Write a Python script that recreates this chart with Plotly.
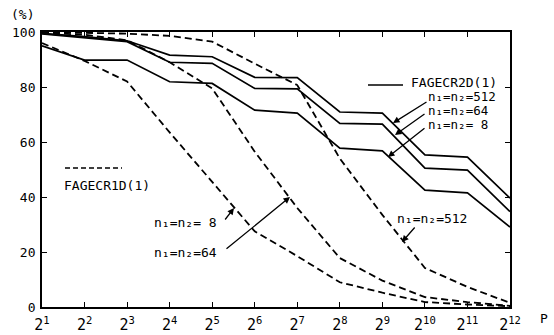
import plotly.graph_objects as go

# ---- data ----
P = [2, 4, 8, 16, 32, 64, 128, 256, 512, 1024, 2048, 4096]
x_tick_text = ["2<sup>%d</sup>" % k for k in range(1, 13)]
y_ticks = [0, 20, 40, 60, 80, 100]

# FAGECR2D(1) (solid)
fag2d_512 = [99.5, 98.3, 96.8, 91.6, 91.0, 83.5, 83.4, 70.9, 70.5, 55.3, 54.5, 39.6]
fag2d_64 = [99.3, 98.0, 96.5, 89.0, 88.6, 79.5, 79.3, 66.8, 66.5, 50.5, 49.8, 34.7]
fag2d_8 = [95.0, 89.8, 89.8, 81.9, 81.3, 71.6, 70.5, 57.8, 56.8, 42.5, 41.5, 29.1]

# FAGECR1D(1) (dashed)
fag1d_512 = [100.0, 99.8, 99.4, 98.6, 96.5, 88.5, 80.7, 54.0, 33.5, 14.2, 7.3, 1.5]
fag1d_64 = [99.8, 99.0, 97.0, 89.0, 79.5, 56.5, 36.0, 17.8, 9.6, 3.6, 1.8, 0.4]
fag1d_8 = [96.0, 89.5, 82.0, 63.5, 45.5, 27.5, 18.5, 9.0, 5.2, 1.8, 0.9, 0.3]

W, H = 554, 335
L, R, T, B = 42, 44, 32, 28
PW, PH = W - L - R, H - T - B

def px(x):
    return (x - L) / PW

def py(y):
    return (H - B - y) / PH

FONT = "DejaVu Sans Mono"
fig = go.Figure()

for ys in (fag2d_512, fag2d_64, fag2d_8):
    fig.add_trace(go.Scatter(x=P, y=ys, mode="lines",
                             line=dict(color="black", width=1.7),
                             showlegend=False, hoverinfo="skip"))
for ys in (fag1d_512, fag1d_64, fag1d_8):
    fig.add_trace(go.Scatter(x=P, y=ys, mode="lines",
                             line=dict(color="black", width=1.8, dash="7px,4px"),
                             showlegend=False, hoverinfo="skip"))

axis_common = dict(showline=True, linecolor="black", linewidth=1.8, mirror="allticks",
                   ticks="inside", ticklen=5, tickwidth=1.3, tickcolor="black",
                   showgrid=False, zeroline=False, automargin=False)

fig.update_xaxes(type="log", range=[0.30103, 3.61236], tickvals=P, ticktext=x_tick_text,
                 tickfont=dict(family=FONT, size=15, color="black"),
                 ticklabelstandoff=3, **axis_common)
fig.update_yaxes(range=[0, 100], tickvals=y_ticks,
                 tickfont=dict(family=FONT, size=13, color="black"),
                 ticklabelstandoff=2, **axis_common)

ann = []

def text(xp, yp, s, anchor="left", size=13):
    ann.append(dict(xref="paper", yref="paper", x=px(xp), y=py(yp), text=s,
                    showarrow=False, xanchor=anchor, yanchor="middle", borderpad=0,
                    font=dict(family=FONT, size=size, color="black")))

def arrow(tipx, tipy, tailx, taily):
    ann.append(dict(xref="paper", yref="paper", x=px(tipx), y=py(tipy), text="",
                    showarrow=True, ax=tailx - tipx, ay=taily - tipy,
                    arrowhead=2, arrowsize=1, arrowwidth=1.3, arrowcolor="black"))

n = "n\u2081=n\u2082="
text(22, 14, "(%)", anchor="center", size=13)
text(544, 318, "P", anchor="center", size=13)

text(410, 82.5, "FAGECR2D(1)")
text(427, 97, n + "512", size=12.5)
text(427, 110.5, n + "64", size=12.5)
text(427, 124, n + " 8", size=12.5)
arrow(393, 123, 428, 101)
arrow(395, 135, 426, 113)
arrow(388, 157, 426, 127)

text(63, 185, "FAGECR1D(1)")
text(153, 222, n + " 8")
text(153, 252, n + "64")
text(396, 218, n + "512")
arrow(234, 208, 224, 221)
arrow(290, 197, 225, 250)
arrow(402, 242, 416, 226)

shapes = [
    dict(type="line", xref="paper", yref="paper", x0=px(368), x1=px(403), y0=py(85), y1=py(85),
         line=dict(color="black", width=1.6)),
    dict(type="line", xref="paper", yref="paper", x0=px(65), x1=px(122), y0=py(168), y1=py(168),
         line=dict(color="black", width=1.6, dash="5px,3px")),
]

fig.update_layout(width=W, height=H, margin=dict(l=L, r=R, t=T, b=B, autoexpand=False),
                  paper_bgcolor="white", plot_bgcolor="white",
                  annotations=ann, shapes=shapes, showlegend=False)

fig.write_html("out.html", config={"displayModeBar": False})

# remove the browser's default 8px body margin so the chart sits at (0, 0)
with open("out.html", "r", encoding="utf-8") as f:
    html = f.read()
html = html.replace("<head>", "<head><style>html,body{margin:0;padding:0;overflow:hidden;}</style>", 1)
with open("out.html", "w", encoding="utf-8") as f:
    f.write(html)
